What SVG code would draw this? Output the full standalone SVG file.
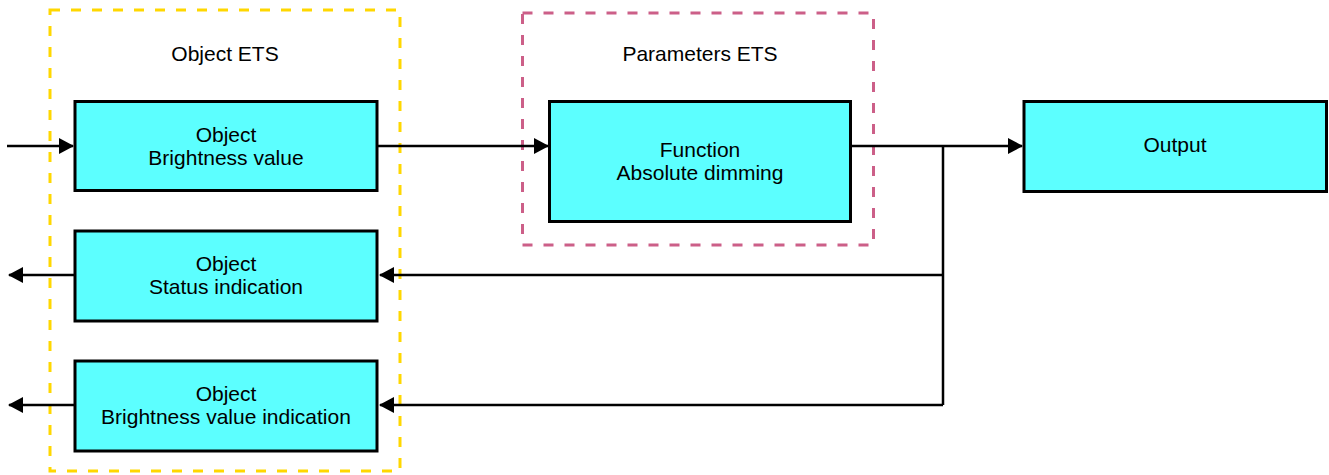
<svg xmlns="http://www.w3.org/2000/svg" width="1329" height="475" viewBox="0 0 1329 475">
<style>
.node rect{fill:#5CFFFF;stroke:#000;stroke-width:3}
text{font-family:"Liberation Sans",Arial,sans-serif;font-size:21px;fill:#000;text-anchor:middle}
.conn{fill:none;stroke:#000;stroke-width:2.5}
.frame{fill:none;stroke-width:3;stroke-dasharray:10 11}
</style>
<defs>
<marker id="ah" markerUnits="userSpaceOnUse" markerWidth="16" markerHeight="18" refX="14" refY="8" orient="auto">
<polygon points="0,0 15,8 0,16" fill="#000"/>
</marker>
</defs>
<rect id="frame-object" class="frame" x="50" y="10" width="350" height="461" stroke="#FFD700"/>
<text x="225" y="61">Object ETS</text>
<rect id="frame-params" class="frame" x="522.5" y="13" width="351" height="232" stroke="#CC5F88"/>
<text x="700" y="61">Parameters ETS</text>
<g id="connectors">
<path class="conn" d="M7,146 H73" marker-end="url(#ah)"/>
<path class="conn" d="M377,146 H548" marker-end="url(#ah)"/>
<path class="conn" d="M851,146 H1022" marker-end="url(#ah)"/>
<path class="conn" d="M943,146 V405"/>
<path class="conn" d="M943,275 H380" marker-end="url(#ah)"/>
<path class="conn" d="M943,405 H380" marker-end="url(#ah)"/>
<path class="conn" d="M74,275 H9" marker-end="url(#ah)"/>
<path class="conn" d="M74,405 H9" marker-end="url(#ah)"/>
</g>
<g id="node-brightness" class="node">
<rect x="75" y="101.5" width="302" height="89"/>
<text x="226" y="142">Object</text>
<text x="226" y="165">Brightness value</text>
</g>
<g id="node-status" class="node">
<rect x="75" y="231" width="302" height="90"/>
<text x="226" y="271">Object</text>
<text x="226" y="294">Status indication</text>
</g>
<g id="node-brightness-indication" class="node">
<rect x="75" y="361" width="302" height="90"/>
<text x="226" y="401">Object</text>
<text x="226" y="424">Brightness value indication</text>
</g>
<g id="node-function" class="node">
<rect x="549.5" y="101.5" width="301" height="120"/>
<text x="700" y="157">Function</text>
<text x="700" y="180">Absolute dimming</text>
</g>
<g id="node-output" class="node">
<rect x="1024" y="101.5" width="302.5" height="90"/>
<text x="1175" y="152">Output</text>
</g>
</svg>
